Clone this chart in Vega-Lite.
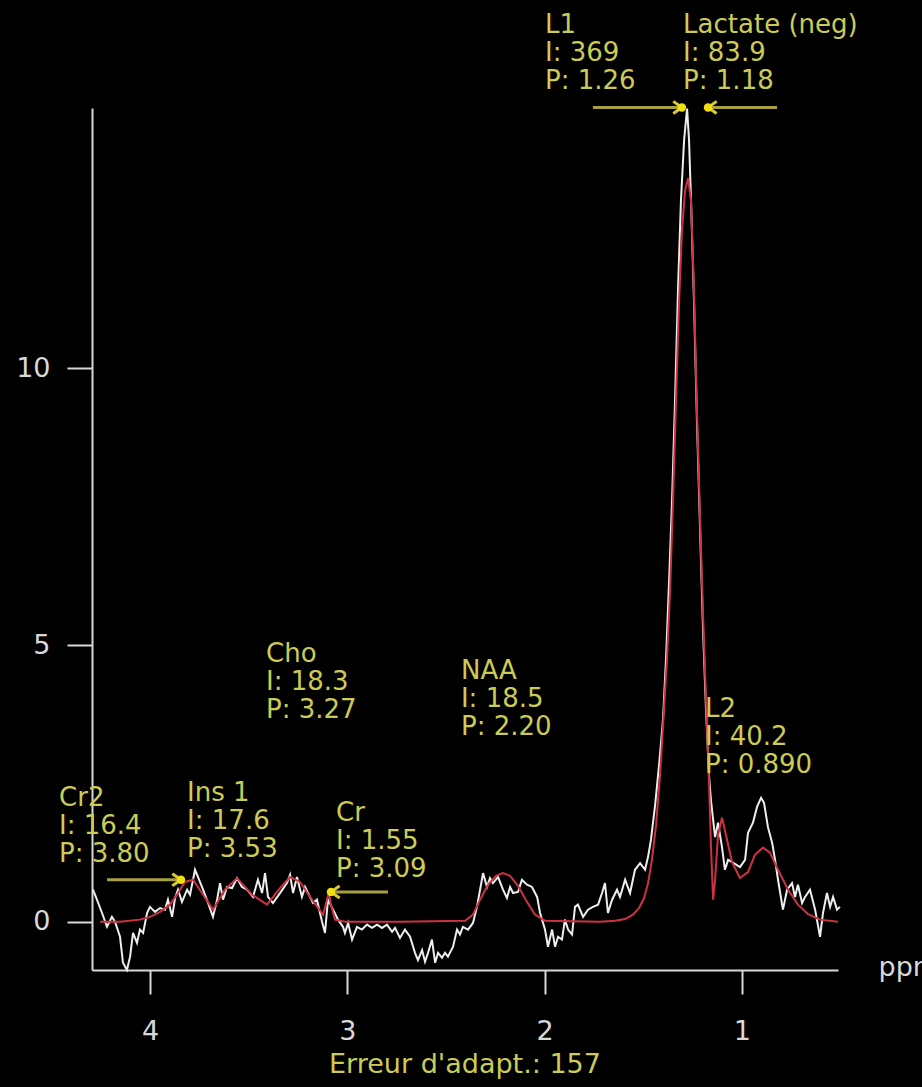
{
  "$schema": "https://vega.github.io/schema/vega-lite/v6.json",
  "width": 746,
  "height": 862,
  "autosize": {"type": "none"},
  "padding": {"left": 92, "top": 108, "right": 84, "bottom": 117},
  "background": "#000000",
  "config": {
    "view": {"stroke": null},
    "axis": {
      "grid": false,
      "domainColor": "#d8d8d8",
      "domainWidth": 2,
      "tickColor": "#d8d8d8",
      "tickWidth": 2,
      "labelColor": "#d8d8d8",
      "labelFont": "DejaVu Sans",
      "labelFontSize": 27,
      "labelOverlap": false,
      "labelFlush": false
    }
  },
  "title": {
    "text": "Erreur d'adapt.: 157",
    "orient": "bottom",
    "anchor": "middle",
    "color": "#cccc55",
    "font": "DejaVu Sans",
    "fontSize": 27,
    "fontWeight": "normal",
    "baseline": "alphabetic",
    "offset": 29
  },
  "datasets": {
    "white": [
      {"ppm":4.289,"intensity":0.58},{"ppm":4.269,"intensity":0.40},{"ppm":4.243,"intensity":0.16},{"ppm":4.218,"intensity":-0.09},{"ppm":4.193,"intensity":0.09},{"ppm":4.177,"intensity":0},{"ppm":4.152,"intensity":-0.27},{"ppm":4.137,"intensity":-0.74},{"ppm":4.117,"intensity":-0.87},{"ppm":4.101,"intensity":-0.63},{"ppm":4.086,"intensity":-0.20},{"ppm":4.066,"intensity":-0.38},{"ppm":4.051,"intensity":-0.14},{"ppm":4.035,"intensity":-0.20},{"ppm":4.015,"intensity":0.16},{"ppm":4.000,"intensity":0.27},{"ppm":3.975,"intensity":0.18},{"ppm":3.949,"intensity":0.25},{"ppm":3.924,"intensity":0.22},{"ppm":3.909,"intensity":0.40},{"ppm":3.888,"intensity":0.09},{"ppm":3.873,"intensity":0.43},{"ppm":3.858,"intensity":0.58},{"ppm":3.838,"intensity":0.36},{"ppm":3.812,"intensity":0.58},{"ppm":3.797,"intensity":0.49},{"ppm":3.772,"intensity":0.94},{"ppm":3.757,"intensity":0.81},{"ppm":3.731,"intensity":0.58},{"ppm":3.706,"intensity":0.34},{"ppm":3.681,"intensity":0.09},{"ppm":3.660,"intensity":0.40},{"ppm":3.645,"intensity":0.70},{"ppm":3.630,"intensity":0.40},{"ppm":3.610,"intensity":0.63},{"ppm":3.584,"intensity":0.61},{"ppm":3.559,"intensity":0.79},{"ppm":3.534,"intensity":0.63},{"ppm":3.508,"intensity":0.58},{"ppm":3.478,"intensity":0.45},{"ppm":3.453,"intensity":0.76},{"ppm":3.432,"intensity":0.52},{"ppm":3.417,"intensity":0.88},{"ppm":3.402,"intensity":0.45},{"ppm":3.377,"intensity":0.34},{"ppm":3.341,"intensity":0.52},{"ppm":3.306,"intensity":0.70},{"ppm":3.290,"intensity":0.85},{"ppm":3.275,"intensity":0.52},{"ppm":3.255,"intensity":0.81},{"ppm":3.230,"intensity":0.45},{"ppm":3.214,"intensity":0.63},{"ppm":3.189,"intensity":0.45},{"ppm":3.174,"intensity":0.34},{"ppm":3.154,"intensity":0.40},{"ppm":3.128,"intensity":0},{"ppm":3.113,"intensity":-0.20},{"ppm":3.098,"intensity":0.40},{"ppm":3.072,"intensity":0.22},{"ppm":3.047,"intensity":0.04},{"ppm":3.022,"intensity":-0.09},{"ppm":3.012,"intensity":-0.20},{"ppm":2.996,"intensity":-0.02},{"ppm":2.976,"intensity":-0.32},{"ppm":2.951,"intensity":-0.09},{"ppm":2.926,"intensity":-0.14},{"ppm":2.900,"intensity":-0.05},{"ppm":2.875,"intensity":-0.11},{"ppm":2.849,"intensity":-0.05},{"ppm":2.824,"intensity":-0.11},{"ppm":2.799,"intensity":-0.05},{"ppm":2.773,"intensity":-0.18},{"ppm":2.758,"intensity":-0.11},{"ppm":2.733,"intensity":-0.29},{"ppm":2.708,"intensity":-0.14},{"ppm":2.682,"intensity":-0.27},{"ppm":2.657,"intensity":-0.56},{"ppm":2.642,"intensity":-0.69},{"ppm":2.621,"intensity":-0.51},{"ppm":2.606,"intensity":-0.72},{"ppm":2.591,"intensity":-0.56},{"ppm":2.571,"intensity":-0.32},{"ppm":2.555,"intensity":-0.74},{"ppm":2.540,"intensity":-0.56},{"ppm":2.520,"intensity":-0.65},{"ppm":2.505,"intensity":-0.56},{"ppm":2.490,"intensity":-0.63},{"ppm":2.464,"intensity":-0.45},{"ppm":2.444,"intensity":-0.14},{"ppm":2.429,"intensity":-0.23},{"ppm":2.414,"intensity":-0.09},{"ppm":2.388,"intensity":-0.14},{"ppm":2.363,"intensity":-0.02},{"ppm":2.343,"intensity":0.27},{"ppm":2.327,"intensity":0.58},{"ppm":2.312,"intensity":0.88},{"ppm":2.292,"intensity":0.63},{"ppm":2.277,"intensity":0.79},{"ppm":2.262,"intensity":0.70},{"ppm":2.236,"intensity":0.81},{"ppm":2.211,"intensity":0.58},{"ppm":2.191,"intensity":0.43},{"ppm":2.175,"intensity":0.63},{"ppm":2.160,"intensity":0.52},{"ppm":2.135,"intensity":0.54},{"ppm":2.115,"intensity":0.76},{"ppm":2.089,"intensity":0.67},{"ppm":2.064,"intensity":0.63},{"ppm":2.038,"intensity":0.45},{"ppm":2.023,"intensity":0.16},{"ppm":1.998,"intensity":-0.14},{"ppm":1.983,"intensity":-0.45},{"ppm":1.962,"intensity":-0.14},{"ppm":1.947,"intensity":-0.45},{"ppm":1.932,"intensity":-0.27},{"ppm":1.912,"intensity":-0.32},{"ppm":1.897,"intensity":0.04},{"ppm":1.881,"intensity":-0.14},{"ppm":1.861,"intensity":-0.23},{"ppm":1.846,"intensity":0.27},{"ppm":1.831,"intensity":0.31},{"ppm":1.805,"intensity":0.09},{"ppm":1.780,"intensity":0.22},{"ppm":1.755,"intensity":0.27},{"ppm":1.729,"intensity":0.31},{"ppm":1.709,"intensity":0.52},{"ppm":1.694,"intensity":0.70},{"ppm":1.679,"intensity":0.16},{"ppm":1.658,"intensity":0.40},{"ppm":1.633,"intensity":0.58},{"ppm":1.618,"intensity":0.45},{"ppm":1.592,"intensity":0.76},{"ppm":1.567,"intensity":0.52},{"ppm":1.542,"intensity":0.94},{"ppm":1.516,"intensity":1.06},{"ppm":1.491,"intensity":0.94},{"ppm":1.476,"intensity":1.17},{"ppm":1.461,"intensity":1.48},{"ppm":1.440,"intensity":2.11},{"ppm":1.420,"intensity":2.83},{"ppm":1.400,"intensity":3.65},{"ppm":1.385,"intensity":4.73},{"ppm":1.369,"intensity":6.17},{"ppm":1.354,"intensity":7.62},{"ppm":1.339,"intensity":9.42},{"ppm":1.324,"intensity":11.41},{"ppm":1.309,"intensity":13.03},{"ppm":1.293,"intensity":14.12},{"ppm":1.278,"intensity":14.69},{"ppm":1.268,"intensity":14.12},{"ppm":1.258,"intensity":13.03},{"ppm":1.243,"intensity":11.23},{"ppm":1.228,"intensity":9.06},{"ppm":1.212,"intensity":7.08},{"ppm":1.197,"intensity":5.27},{"ppm":1.182,"intensity":3.83},{"ppm":1.167,"intensity":2.65},{"ppm":1.157,"intensity":2.20},{"ppm":1.136,"intensity":1.53},{"ppm":1.121,"intensity":1.79},{"ppm":1.101,"intensity":1.35},{"ppm":1.086,"intensity":0.94},{"ppm":1.070,"intensity":1.12},{"ppm":1.045,"intensity":1.07},{"ppm":1.010,"intensity":0.99},{"ppm":0.984,"intensity":1.12},{"ppm":0.969,"intensity":1.61},{"ppm":0.944,"intensity":1.79},{"ppm":0.923,"intensity":2.08},{"ppm":0.903,"intensity":2.24},{"ppm":0.888,"intensity":2.15},{"ppm":0.868,"intensity":1.71},{"ppm":0.847,"intensity":1.43},{"ppm":0.832,"intensity":1.12},{"ppm":0.817,"intensity":0.76},{"ppm":0.792,"intensity":0.22},{"ppm":0.771,"intensity":0.58},{"ppm":0.746,"intensity":0.70},{"ppm":0.731,"intensity":0.45},{"ppm":0.716,"intensity":0.67},{"ppm":0.695,"intensity":0.34},{"ppm":0.680,"intensity":0.45},{"ppm":0.655,"intensity":0.58},{"ppm":0.629,"intensity":0.22},{"ppm":0.604,"intensity":-0.27},{"ppm":0.589,"intensity":0.16},{"ppm":0.569,"intensity":0.52},{"ppm":0.553,"intensity":0.27},{"ppm":0.538,"intensity":0.45},{"ppm":0.518,"intensity":0.22},{"ppm":0.503,"intensity":0.27}
    ],
    "fit": [
      {"ppm":4.253,"intensity":0},{"ppm":4.152,"intensity":0},{"ppm":4.051,"intensity":0.04},{"ppm":4.000,"intensity":0.09},{"ppm":3.949,"intensity":0.18},{"ppm":3.899,"intensity":0.31},{"ppm":3.858,"intensity":0.52},{"ppm":3.823,"intensity":0.72},{"ppm":3.782,"intensity":0.76},{"ppm":3.731,"intensity":0.49},{"ppm":3.681,"intensity":0.22},{"ppm":3.620,"intensity":0.58},{"ppm":3.559,"intensity":0.79},{"ppm":3.483,"intensity":0.49},{"ppm":3.407,"intensity":0.31},{"ppm":3.341,"intensity":0.61},{"ppm":3.290,"intensity":0.81},{"ppm":3.240,"intensity":0.72},{"ppm":3.179,"intensity":0.40},{"ppm":3.123,"intensity":0.13},{"ppm":3.103,"intensity":0.40},{"ppm":3.093,"intensity":0.54},{"ppm":3.083,"intensity":0.31},{"ppm":3.062,"intensity":0.04},{"ppm":3.012,"intensity":0},{"ppm":2.733,"intensity":0},{"ppm":2.403,"intensity":0.02},{"ppm":2.363,"intensity":0.13},{"ppm":2.327,"intensity":0.40},{"ppm":2.287,"intensity":0.67},{"ppm":2.246,"intensity":0.83},{"ppm":2.211,"intensity":0.88},{"ppm":2.175,"intensity":0.83},{"ppm":2.135,"intensity":0.65},{"ppm":2.089,"intensity":0.36},{"ppm":2.049,"intensity":0.13},{"ppm":1.998,"intensity":0.02},{"ppm":1.719,"intensity":0},{"ppm":1.643,"intensity":0.02},{"ppm":1.592,"intensity":0.05},{"ppm":1.552,"intensity":0.13},{"ppm":1.521,"intensity":0.25},{"ppm":1.496,"intensity":0.43},{"ppm":1.476,"intensity":0.69},{"ppm":1.456,"intensity":1.12},{"ppm":1.435,"intensity":1.75},{"ppm":1.415,"intensity":2.65},{"ppm":1.395,"intensity":3.83},{"ppm":1.380,"intensity":4.73},{"ppm":1.364,"intensity":5.99},{"ppm":1.349,"intensity":7.62},{"ppm":1.334,"intensity":9.42},{"ppm":1.319,"intensity":11.14},{"ppm":1.304,"intensity":12.49},{"ppm":1.288,"intensity":13.21},{"ppm":1.273,"intensity":13.43},{"ppm":1.258,"intensity":13.03},{"ppm":1.243,"intensity":11.41},{"ppm":1.228,"intensity":9.24},{"ppm":1.212,"intensity":7.26},{"ppm":1.197,"intensity":5.54},{"ppm":1.182,"intensity":4.01},{"ppm":1.167,"intensity":2.56},{"ppm":1.157,"intensity":1.39},{"ppm":1.146,"intensity":0.40},{"ppm":1.136,"intensity":0.76},{"ppm":1.121,"intensity":1.57},{"ppm":1.101,"intensity":1.88},{"ppm":1.081,"intensity":1.57},{"ppm":1.050,"intensity":1.08},{"ppm":1.010,"intensity":0.79},{"ppm":0.969,"intensity":0.90},{"ppm":0.934,"intensity":1.21},{"ppm":0.893,"intensity":1.34},{"ppm":0.858,"intensity":1.25},{"ppm":0.817,"intensity":0.94},{"ppm":0.766,"intensity":0.58},{"ppm":0.716,"intensity":0.31},{"ppm":0.665,"intensity":0.14},{"ppm":0.604,"intensity":0.04},{"ppm":0.513,"intensity":0}
    ],
    "arrows": [
      {"name":"Cr2","ppm":3.843,"ppm2":4.218,"intensity":0.76,"dir":"right"},
      {"name":"L1","ppm":1.304,"ppm2":1.755,"intensity":14.71,"dir":"right"},
      {"name":"Cr","ppm":3.083,"ppm2":2.794,"intensity":0.54,"dir":"left"},
      {"name":"Lactate","ppm":1.172,"ppm2":0.822,"intensity":14.71,"dir":"left"}
    ],
    "labels": [
      {"label":"L1\nI: 369\nP: 1.26","ppm":1.998,"intensity":16.44},
      {"label":"Lactate (neg)\nI: 83.9\nP: 1.18","ppm":1.298,"intensity":16.44},
      {"label":"Cho\nI: 18.3\nP: 3.27","ppm":3.412,"intensity":5.07},
      {"label":"NAA\nI: 18.5\nP: 2.20","ppm":2.424,"intensity":4.77},
      {"label":"Cr2\nI: 16.4\nP: 3.80","ppm":4.461,"intensity":2.47},
      {"label":"Ins 1\nI: 17.6\nP: 3.53","ppm":3.812,"intensity":2.56},
      {"label":"Cr\nI: 1.55\nP: 3.09","ppm":3.057,"intensity":2.20},
      {"label":"L2\nI: 40.2\nP: 0.890","ppm":1.187,"intensity":4.08}
    ]
  },
  "encoding": {
    "x": {
      "field": "ppm",
      "type": "quantitative",
      "scale": {"domain": [0.513, 4.294], "reverse": true, "nice": false, "zero": false},
      "axis": {
        "values": [4, 3, 2, 1],
        "format": "d",
        "tickSize": 24,
        "labelPadding": 24,
        "title": "ppm",
        "titleX": 786,
        "titleY": 5,
        "titleAlign": "left",
        "titleAnchor": "start",
        "titleBaseline": "alphabetic",
        "titleColor": "#d8d8d8",
        "titleFont": "DejaVu Sans",
        "titleFontSize": 27,
        "titleFontWeight": "normal"
      }
    },
    "y": {
      "field": "intensity",
      "type": "quantitative",
      "scale": {"domain": [-0.87, 14.7], "nice": false, "zero": false},
      "axis": {
        "values": [0, 5, 10],
        "format": "d",
        "tickSize": 25,
        "labelPadding": 17,
        "title": null
      }
    }
  },
  "layer": [
    {
      "data": {"name": "white"},
      "mark": {"type": "line", "color": "#eeeeee", "strokeWidth": 2},
      "encoding": {}
    },
    {
      "data": {"name": "fit"},
      "mark": {"type": "line", "color": "#cc3340", "strokeWidth": 2},
      "encoding": {}
    },
    {
      "data": {"name": "arrows"},
      "mark": {"type": "rule", "color": "#a8a040", "strokeWidth": 3},
      "encoding": {"x2": {"field": "ppm2"}}
    },
    {
      "data": {"name": "arrows"},
      "mark": {"type": "point", "filled": false, "strokeWidth": 3, "size": 300, "color": "#d8cc30", "opacity": 1},
      "encoding": {
        "shape": {
          "field": "dir",
          "type": "nominal",
          "scale": {"domain": ["right", "left"], "range": ["M0,0L-1,-0.7M0,0L-1,0.7", "M0,0L1,-0.7M0,0L1,0.7"]},
          "legend": null
        }
      }
    },
    {
      "data": {"name": "arrows"},
      "mark": {"type": "point", "filled": true, "shape": "circle", "size": 70, "color": "#f0e010", "opacity": 1},
      "encoding": {}
    },
    {
      "data": {"name": "labels"},
      "mark": {
        "type": "text",
        "align": "left",
        "baseline": "top",
        "lineBreak": "\n",
        "lineHeight": 28,
        "font": "DejaVu Sans",
        "fontSize": 26,
        "fill": "#cccc55"
      },
      "encoding": {"text": {"field": "label"}}
    }
  ]
}
